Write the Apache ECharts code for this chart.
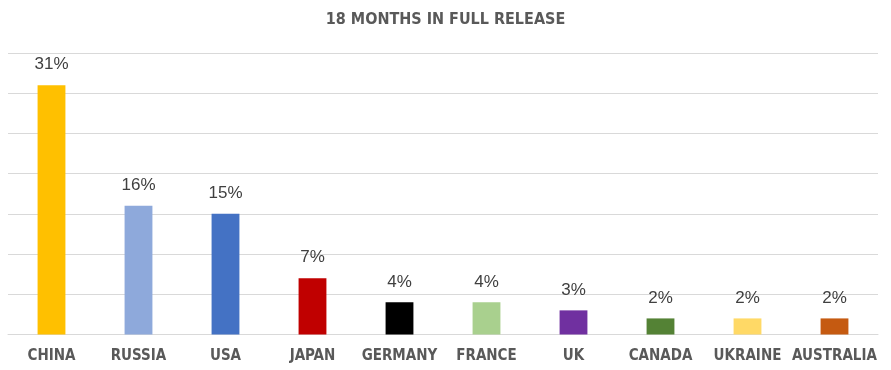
<!DOCTYPE html>
<html><head><meta charset="utf-8">
<script src="https://cdn.jsdelivr.net/npm/echarts@6/dist/echarts.min.js"></script>
<style>html,body{margin:0;padding:0;background:#fff}#c{width:891px;height:370px}</style>
</head><body><div id="c"></div>
<script>
const titleText = "18 MONTHS IN FULL RELEASE";
const categories = ["CHINA","RUSSIA","USA","JAPAN","GERMANY","FRANCE","UK","CANADA","UKRAINE","AUSTRALIA"];
const values = [31,16,15,7,4,4,3,2,2,2];
const colors = ["#FFC000","#8EA9DB","#4472C4","#C00000","#000000","#A9D08E","#7030A0","#548235","#FFD966","#C55A11"];
const yTicks = [0,5,10,15,20,25,30,35];

const narrow = "'Liberation Sans Narrow','DejaVu Sans Condensed',sans-serif";
const chart = echarts.init(document.getElementById('c'));
chart.setOption({
  animation:false,
  backgroundColor:'#fff',
  title:{text:titleText,left:'center',top:7,textStyle:{fontFamily:narrow,fontWeight:'bold',fontSize:16,color:'#595959'}},
  grid:{left:8,right:13,top:53,bottom:35.5,containLabel:false},
  xAxis:{type:'category',data:categories,
    axisLine:{lineStyle:{color:'#d9d9d9',width:1}},axisTick:{show:false},
    axisLabel:{fontFamily:narrow,fontWeight:'bold',fontSize:15,color:'#595959',margin:14,interval:0}},
  yAxis:{type:'value',min:yTicks[0],max:yTicks[yTicks.length-1],interval:5,
    axisLabel:{show:false},axisLine:{show:false},axisTick:{show:false},
    splitLine:{lineStyle:{color:'#d9d9d9',width:1}}},
  series:[{type:'bar',barWidth:'32%',
    data:values.map((v,i)=>({value:v,itemStyle:{color:colors[i]}})),
    label:{show:true,position:'top',distance:12,formatter:p=>p.value+'%',
      fontFamily:'Arial, Liberation Sans, sans-serif',fontSize:17,color:'#404040'}}]
});
</script></body></html>
